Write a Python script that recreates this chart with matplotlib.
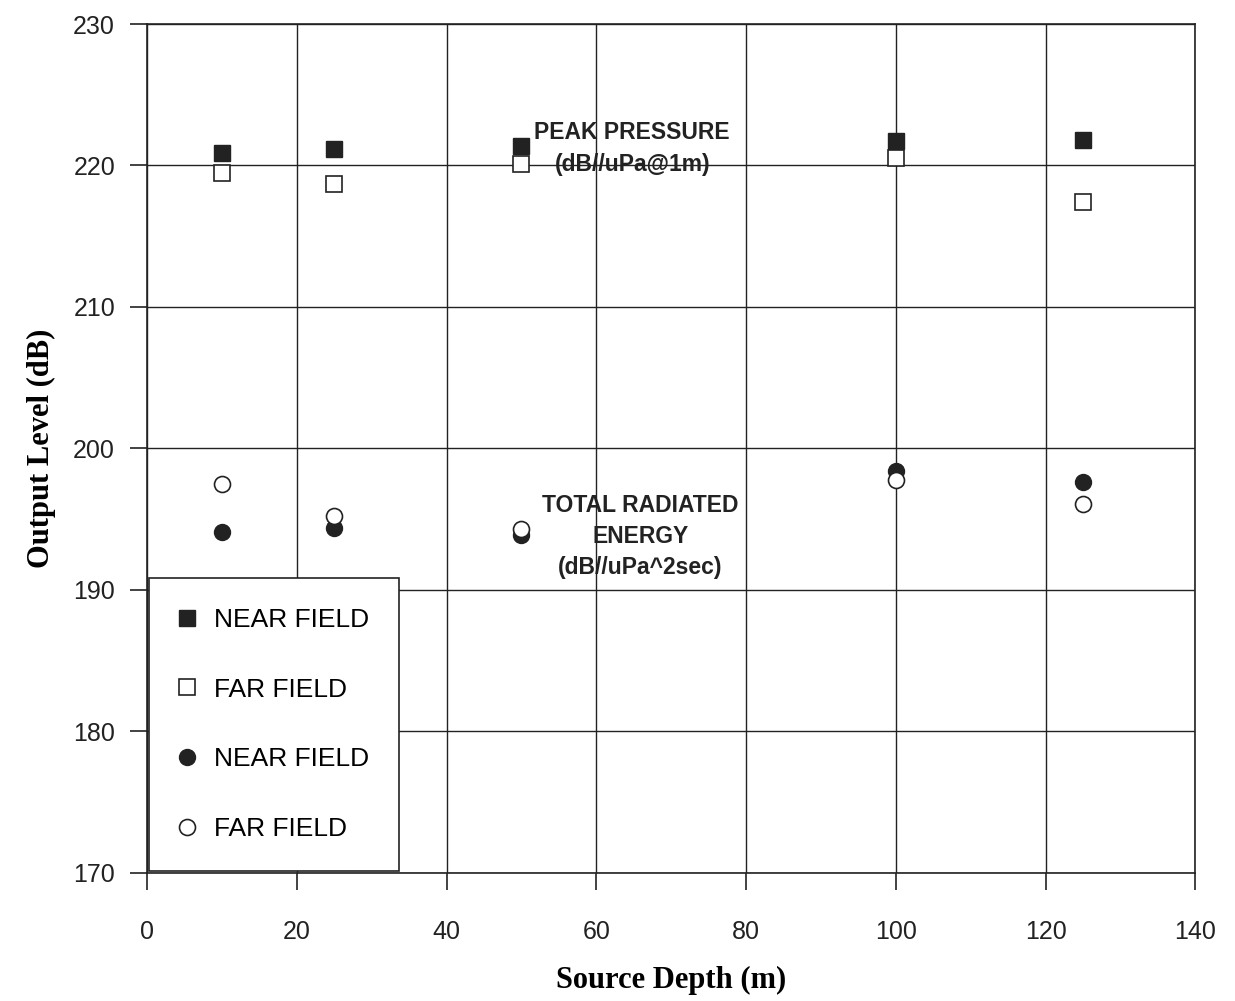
import matplotlib
matplotlib.use("Agg")
import matplotlib.pyplot as plt
from matplotlib.lines import Line2D

depth = [10, 25, 50, 100, 125]

peak_near = [220.9, 221.2, 221.4, 221.7, 221.8]
peak_far = [219.5, 218.7, 220.1, 220.5, 217.4]
energy_near = [194.1, 194.4, 193.9, 198.4, 197.6]
energy_far = [197.5, 195.2, 194.3, 197.8, 196.1]

legend_labels = ["NEAR FIELD", "FAR FIELD", "NEAR FIELD", "FAR FIELD"]

fig = plt.figure(figsize=(12.35, 10.01), dpi=100)
ax = fig.add_axes([0.119, 0.128, 0.849, 0.848])

ms = 11.5
ax.plot(depth, peak_near, "s", color="#222222", ms=ms, zorder=3)
ax.plot(depth, peak_far, "s", mfc="white", mec="#222222", ms=ms, mew=1.2, zorder=3)
ax.plot(depth, energy_near, "o", color="#222222", ms=ms, zorder=3)
ax.plot(depth, energy_far, "o", mfc="white", mec="#222222", ms=ms, mew=1.2, zorder=3)

ax.set_xlim(0, 140)
ax.set_ylim(170, 230)
ax.set_xticks(range(0, 141, 20))
ax.set_yticks(range(170, 231, 10))
ax.grid(True, color="#222222", linewidth=1.0)
ax.set_axisbelow(True)
for s in ax.spines.values():
    s.set_linewidth(1.2)
    s.set_color("#222222")
ax.tick_params(direction="out", length=12, width=1.2, labelsize=18,
               colors="#222222")
ax.tick_params(axis="x", pad=22)
ax.tick_params(axis="y", pad=11)
for lab in ax.get_xticklabels() + ax.get_yticklabels():
    lab.set_family("Liberation Sans")

ax.set_xlabel("Source Depth (m)", family="Liberation Serif", fontweight="bold",
              fontsize=22, labelpad=16)
ax.set_ylabel("Output Level (dB)", family="Liberation Serif", fontweight="bold",
              fontsize=22, labelpad=12)

ax.text(64.8, 221.2, "PEAK PRESSURE\n(dB//uPa@1m)", ha="center", va="center",
        family="Liberation Sans", fontweight="bold", fontsize=16.5,
        linespacing=1.55, color="#222222")
ax.text(65.9, 193.75, "TOTAL RADIATED\nENERGY\n(dB//uPa^2sec)", ha="center",
        va="center", family="Liberation Sans", fontweight="bold", fontsize=16.5,
        linespacing=1.45, color="#222222")

handles = [
    Line2D([], [], ls="", marker="s", color="#222222", ms=ms),
    Line2D([], [], ls="", marker="s", mfc="white", mec="#222222", ms=ms, mew=1.2),
    Line2D([], [], ls="", marker="o", color="#222222", ms=ms),
    Line2D([], [], ls="", marker="o", mfc="white", mec="#222222", ms=ms, mew=1.2),
]
leg = ax.legend(handles, legend_labels, loc="lower left",
                bbox_to_anchor=(0.002, 0.002), fancybox=False, frameon=True,
                edgecolor="#222222", framealpha=1,
                prop={"family": "Liberation Sans", "size": 19},
                labelspacing=1.73, handletextpad=0.7, borderpad=1.15,
                handlelength=0.6, borderaxespad=0)
leg.get_frame().set_linewidth(1.2)

fig.savefig("out.png", dpi=100)
